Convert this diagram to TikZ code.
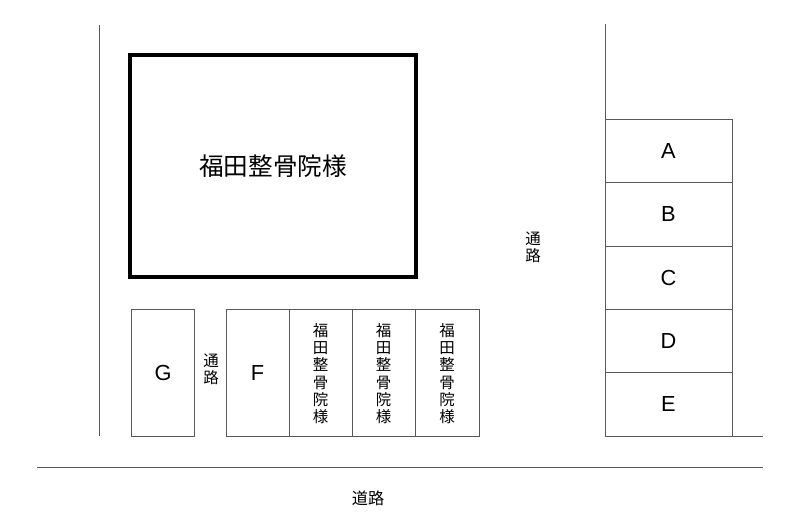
\documentclass[tikz,border=0pt]{standalone}
\usepackage{fontspec}
\setmainfont{Liberation Sans}
\newfontfamily\jpfont{Noto Sans CJK JP}
\usepackage{tikz}

\tikzset{
  lotline/.style={draw=black!65,line width=0.7pt},
  houseline/.style={draw=black,line width=2.8pt},
  lettertext/.style={font=\fontsize{15.5}{18}\selectfont},
  tatetext/.style={align=center,inner sep=0pt,font=\jpfont\fontsize{11}{12.3}\selectfont},
  jptext/.style={inner sep=0pt,font=\jpfont\fontsize{11.5}{13}\selectfont}
}

\begin{document}
\begin{tikzpicture}[x=0.025cm,y=-0.025cm]
        \useasboundingbox (0,0) rectangle (800,531);
        % site boundary lines
        \draw[lotline] (99,25) -- (99,436);
        \draw[lotline] (605,24) -- (605,436) -- (763,436);
        \draw[lotline] (37,467) -- (763,467);
        % main building
        \draw[houseline] (130,55) rectangle (416,277);
        \node[inner sep=0pt,font=\jpfont\fontsize{17.5}{20}\selectfont] (house) at (273,166) {福田整骨院様};
        % parking lots, right column
        \draw[lotline] (605,119) rectangle (732,436);
        \foreach \y in {182,246,309,372}
            \draw[lotline] (605,\y) -- (732,\y);
        \node[lettertext] (lotA) at (668.5,151) {A};
        \node[lettertext] (lotB) at (668.5,214) {B};
        \node[lettertext] (lotC) at (668.5,277.5) {C};
        \node[lettertext] (lotD) at (668.5,341) {D};
        \node[lettertext] (lotE) at (668.5,404) {E};
        % parking lots, bottom row
        \draw[lotline] (131,309) rectangle (194,436);
        \draw[lotline] (226,309) rectangle (479,436);
        \foreach \x in {289,352,415}
            \draw[lotline] (\x,309) -- (\x,436);
        \node[lettertext] (lotG) at (163,373) {G};
        \node[lettertext] (lotF) at (257.5,373) {F};
        \node[tatetext] (lotH1) at (320.5,373.5) {福\\田\\整\\骨\\院\\様};
        \node[tatetext] (lotH2) at (383.5,373.5) {福\\田\\整\\骨\\院\\様};
        \node[tatetext] (lotH3) at (447,373.5) {福\\田\\整\\骨\\院\\様};
        % passages and road
        \node[tatetext] (pathL) at (211,369) {通\\路};
        \node[tatetext] (pathR) at (533,247) {通\\路};
        \node[jptext] (road) at (368,498) {道路};
    \end{tikzpicture}
\end{document}
